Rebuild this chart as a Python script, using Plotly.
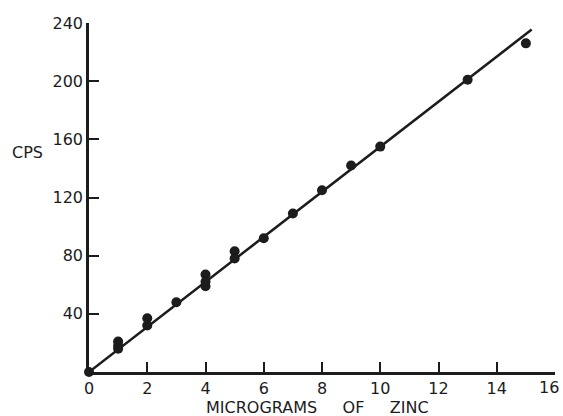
import plotly.graph_objects as go

# Data
x_points = [0, 1, 1, 1, 2, 2, 3, 4, 4, 4, 5, 5, 6, 7, 8, 9, 10, 13, 15]
y_points = [0, 21, 18, 16, 37, 32, 48, 67, 62, 59, 83, 78, 92, 109, 125, 142, 155, 201, 226]
fit_x = [0, 15.2]
fit_y = [0, 235.5]

x_ticks = [0, 2, 4, 6, 8, 10, 12, 14, 16]
x_tick_labels = ["0", "2", "4", "6", "8", "10", "12", "14", ""]
last_x_label = "16"
y_ticks = [40, 80, 120, 160, 200, 240]

ink = "#1c1c1c"
font = dict(family="DejaVu Sans", size=16, color=ink)
sp = "\u00a0" * 5

fig = go.Figure()
fig.add_trace(go.Scatter(x=fit_x, y=fit_y, mode="lines",
                         line=dict(color=ink, width=2.5), cliponaxis=False,
                         showlegend=False, hoverinfo="skip"))
fig.add_trace(go.Scatter(x=x_points, y=y_points, mode="markers",
                         marker=dict(color=ink, size=10), cliponaxis=False,
                         showlegend=False))

fig.update_layout(
    width=563, height=416,
    margin=dict(l=89, r=8, t=23, b=44, autoexpand=False),
    paper_bgcolor="white", plot_bgcolor="white",
    font=font,
    xaxis=dict(range=[0, 16], tickvals=x_ticks, ticktext=x_tick_labels,
               showgrid=False, zeroline=False, showline=True, linecolor=ink, linewidth=2.5,
               ticks="inside", ticklen=10, tickwidth=2, tickcolor=ink, automargin=False,
               ticklabeloverflow="allow",
               tickfont=dict(size=16), fixedrange=True),
    yaxis=dict(range=[0, 240], tickvals=y_ticks, ticktext=[str(v) for v in y_ticks],
               showgrid=False, zeroline=False, showline=True, linecolor=ink, linewidth=2.5,
               ticks="inside", ticklen=10, tickwidth=2, tickcolor=ink, automargin=False,
               ticklabeloverflow="allow",
               tickfont=dict(size=16), fixedrange=True),
    annotations=[
        dict(text="CPS", xref="paper", yref="paper", x=-0.17, y=0.63,
             xanchor="left", yanchor="middle", showarrow=False, font=dict(size=16)),
        dict(text="MICROGRAMS" + sp + "OF" + sp + "ZINC", xref="paper", yref="paper",
             x=(317 - 89) / 466, y=-(407 - 372) / 349, xanchor="center", yanchor="middle",
             showarrow=False, font=dict(size=16)),
        dict(text=last_x_label, xref="x", yref="paper", x=x_ticks[-1], xshift=5,
             y=-(388 - 372) / 349, xanchor="right", yanchor="middle",
             showarrow=False, font=dict(size=16), borderpad=0),
    ],
)

fig.write_html("out.html", config={"displayModeBar": False},
               post_script="document.body.style.margin='0';document.body.style.overflow='hidden';")
